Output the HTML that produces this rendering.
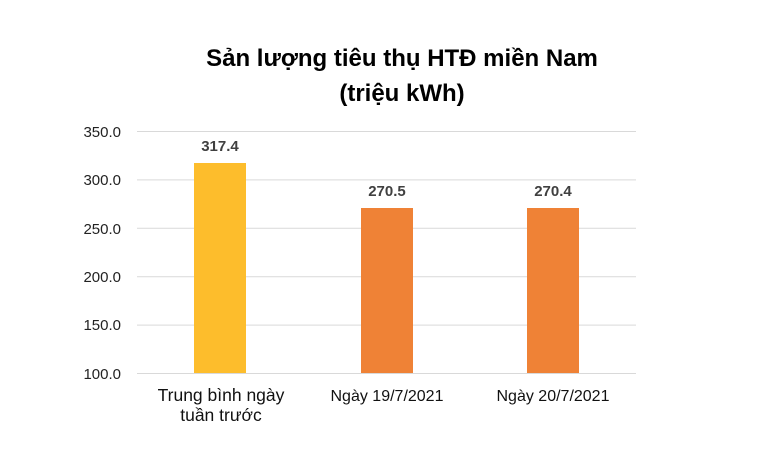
<!DOCTYPE html>
<html><head><meta charset="utf-8"><style>body{margin:0;background:#fff}</style></head><body>
<svg width="760" height="456" xmlns="http://www.w3.org/2000/svg" font-family="Liberation Sans, DejaVu Sans, sans-serif">
<rect width="760" height="456" fill="#fff"/>
<text x="402" y="66" text-anchor="middle" font-size="24" font-weight="bold" fill="#000">Sản lượng tiêu thụ HTĐ miền Nam</text>
<text x="402" y="101" text-anchor="middle" font-size="24" font-weight="bold" fill="#000">(triệu kWh)</text>
<g stroke="#d9d9d9" stroke-width="1">
<line x1="137" x2="636" y1="131.5" y2="131.5"/>
<line x1="137" x2="636" y1="179.9" y2="179.9"/>
<line x1="137" x2="636" y1="228.3" y2="228.3"/>
<line x1="137" x2="636" y1="276.7" y2="276.7"/>
<line x1="137" x2="636" y1="325.1" y2="325.1"/>
<line x1="137" x2="636" y1="373.5" y2="373.5"/>
</g>
<g font-size="15" fill="#222" text-anchor="end">
<text x="121" y="137">350.0</text>
<text x="121" y="185">300.0</text>
<text x="121" y="234">250.0</text>
<text x="121" y="282">200.0</text>
<text x="121" y="330">150.0</text>
<text x="121" y="379">100.0</text>
</g>
<rect x="194" y="163" width="52" height="210" fill="#fdbd2c"/>
<rect x="361" y="208" width="52" height="165" fill="#ef8236"/>
<rect x="527" y="208" width="52" height="165" fill="#ef8236"/>
<g font-size="15" font-weight="bold" fill="#404040" text-anchor="middle">
<text x="220" y="151">317.4</text>
<text x="387" y="196">270.5</text>
<text x="553" y="196">270.4</text>
</g>
<g fill="#111" text-anchor="middle">
<text x="221" y="401" font-size="17.5">Trung bình ngày</text>
<text x="221" y="421" font-size="17.5">tuần trước</text>
<text x="387" y="401" font-size="16">Ngày 19/7/2021</text>
<text x="553" y="401" font-size="16">Ngày 20/7/2021</text>
</g>
</svg>
</body></html>
